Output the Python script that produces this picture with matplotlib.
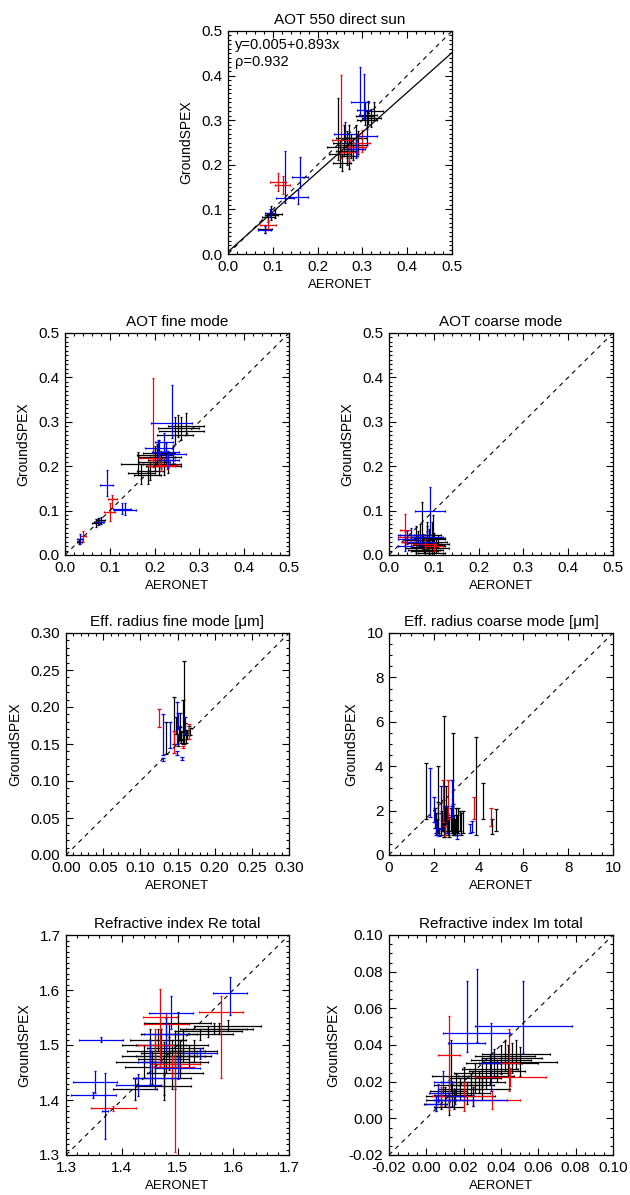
import numpy as np
import matplotlib
matplotlib.use("Agg")
import matplotlib.pyplot as plt
from matplotlib.ticker import MultipleLocator

plt.rcParams['font.family'] = ['Liberation Sans', 'DejaVu Sans']

# ---------------- Panel 1: AOT 550 direct sun ----------------
aot_red_x = [0.112, 0.122, 0.090, 0.252, 0.298, 0.288, 0.270]
aot_red_y = [0.162, 0.155, 0.065, 0.256, 0.248, 0.240, 0.228]
aot_red_xe = [0.018, 0.016, 0.018, 0.020, 0.020, 0.020, 0.020]
aot_red_ylo = [0.020, 0.020, 0.012, 0.040, 0.020, 0.020, 0.020]
aot_red_yhi = [0.020, 0.020, 0.012, 0.145, 0.030, 0.030, 0.020]

aot_blue_x = [0.127, 0.161, 0.157, 0.094, 0.082, 0.295, 0.304, 0.310, 0.262, 0.285]
aot_blue_y = [0.125, 0.173, 0.128, 0.092, 0.054, 0.340, 0.323, 0.264, 0.270, 0.235]
aot_blue_xe = [0.020, 0.018, 0.022, 0.012, 0.015, 0.020, 0.015, 0.022, 0.025, 0.020]
aot_blue_ylo = [0.010, 0.025, 0.015, 0.010, 0.008, 0.030, 0.020, 0.020, 0.020, 0.020]
aot_blue_yhi = [0.105, 0.045, 0.015, 0.010, 0.008, 0.080, 0.080, 0.020, 0.025, 0.020]

aot_blk_x = [0.097, 0.090, 0.105, 0.083, 0.246, 0.260, 0.265, 0.270, 0.275, 0.280,
             0.255, 0.285, 0.270, 0.265, 0.290, 0.250, 0.313, 0.320, 0.305, 0.325, 0.310]
aot_blk_y = [0.087, 0.082, 0.090, 0.056, 0.240, 0.250, 0.230, 0.220, 0.240, 0.235,
             0.205, 0.260, 0.260, 0.245, 0.245, 0.225, 0.312, 0.305, 0.310, 0.320, 0.300]
aot_blk_xe = [0.015, 0.015, 0.015, 0.015, 0.025, 0.025, 0.025, 0.020, 0.025, 0.022,
              0.020, 0.022, 0.030, 0.020, 0.020, 0.025, 0.020, 0.022, 0.020, 0.020, 0.022]
aot_blk_ylo = [0.010, 0.010, 0.010, 0.008, 0.030, 0.030, 0.030, 0.030, 0.025, 0.025,
               0.020, 0.025, 0.030, 0.030, 0.020, 0.030, 0.020, 0.020, 0.020, 0.020, 0.020]
aot_blk_yhi = [0.020, 0.010, 0.010, 0.008, 0.110, 0.040, 0.030, 0.040, 0.030, 0.025,
               0.020, 0.030, 0.030, 0.030, 0.030, 0.030, 0.030, 0.020, 0.030, 0.020, 0.020]

fit_intercept = 0.005
fit_slope = 0.893
fit_rho = 0.932

# ---------------- Panel 2: AOT fine mode ----------------
fine_red_x = [0.040, 0.100, 0.105, 0.197, 0.228, 0.215, 0.210]
fine_red_y = [0.042, 0.097, 0.125, 0.218, 0.203, 0.200, 0.215]
fine_red_xe = [0.006, 0.012, 0.010, 0.030, 0.025, 0.030, 0.020]
fine_red_ylo = [0.012, 0.020, 0.020, 0.020, 0.010, 0.010, 0.015]
fine_red_yhi = [0.012, 0.020, 0.010, 0.180, 0.010, 0.010, 0.015]

fine_blue_x = [0.033, 0.093, 0.134, 0.128, 0.076, 0.238, 0.208, 0.225, 0.240, 0.220, 0.230]
fine_blue_y = [0.035, 0.158, 0.101, 0.103, 0.075, 0.298, 0.240, 0.232, 0.228, 0.255, 0.215]
fine_blue_xe = [0.006, 0.015, 0.025, 0.020, 0.010, 0.045, 0.030, 0.030, 0.030, 0.020, 0.025]
fine_blue_ylo = [0.010, 0.025, 0.010, 0.010, 0.008, 0.035, 0.020, 0.020, 0.020, 0.020, 0.020]
fine_blue_yhi = [0.012, 0.033, 0.015, 0.015, 0.008, 0.085, 0.020, 0.020, 0.020, 0.020, 0.020]

fine_blk_x = [0.074, 0.070, 0.080, 0.032, 0.164, 0.170, 0.185, 0.200, 0.205, 0.210, 0.215,
              0.220, 0.190, 0.210, 0.225, 0.230, 0.200, 0.253, 0.260, 0.245, 0.270]
fine_blk_y = [0.075, 0.072, 0.078, 0.030, 0.206, 0.185, 0.180, 0.210, 0.220, 0.205, 0.215,
              0.200, 0.190, 0.230, 0.220, 0.205, 0.225, 0.285, 0.280, 0.270, 0.290]
fine_blk_xe = [0.010, 0.010, 0.010, 0.005, 0.040, 0.030, 0.030, 0.035, 0.040, 0.035, 0.030,
               0.040, 0.030, 0.035, 0.035, 0.030, 0.040, 0.045, 0.050, 0.040, 0.040]
fine_blk_ylo = [0.008, 0.008, 0.008, 0.005, 0.025, 0.025, 0.020, 0.020, 0.020, 0.025, 0.020,
                0.020, 0.020, 0.020, 0.020, 0.020, 0.020, 0.020, 0.020, 0.020, 0.020]
fine_blk_yhi = [0.008, 0.008, 0.008, 0.005, 0.025, 0.020, 0.020, 0.030, 0.030, 0.025, 0.020,
                0.020, 0.020, 0.030, 0.020, 0.020, 0.020, 0.030, 0.030, 0.040, 0.030]

# ---------------- Panel 3: AOT coarse mode ----------------
crs_red_x = [0.036, 0.035, 0.050, 0.080, 0.100]
crs_red_y = [0.057, 0.040, 0.030, 0.025, 0.020]
crs_red_xe = [0.012, 0.015, 0.020, 0.025, 0.020]
crs_red_ylo = [0.030, 0.020, 0.010, 0.010, 0.010]
crs_red_yhi = [0.035, 0.015, 0.010, 0.010, 0.010]

crs_blue_x = [0.0915, 0.036, 0.040, 0.050, 0.070, 0.085]
crs_blue_y = [0.100, 0.020, 0.035, 0.045, 0.030, 0.040]
crs_blue_xe = [0.034, 0.015, 0.020, 0.030, 0.030, 0.035]
crs_blue_ylo = [0.055, 0.010, 0.010, 0.010, 0.010, 0.010]
crs_blue_yhi = [0.054, 0.020, 0.020, 0.015, 0.015, 0.015]

crs_blk_x = [0.073, 0.085, 0.096, 0.099, 0.060, 0.065, 0.075, 0.080, 0.090, 0.095,
             0.070, 0.085, 0.100, 0.105, 0.080, 0.090, 0.060, 0.110, 0.088, 0.078]
crs_blk_y = [0.030, 0.025, 0.020, 0.035, 0.045, 0.034, 0.027, 0.019, 0.011, 0.004,
             0.040, 0.045, 0.030, 0.015, 0.008, 0.038, 0.015, 0.025, 0.022, 0.012]
crs_blk_xe = [0.025, 0.030, 0.030, 0.025, 0.035, 0.030, 0.035, 0.030, 0.030, 0.030,
              0.030, 0.030, 0.030, 0.030, 0.030, 0.035, 0.025, 0.025, 0.035, 0.035]
crs_blk_ylo = [0.015, 0.015, 0.015, 0.015, 0.015, 0.015, 0.015, 0.010, 0.008, 0.004,
               0.015, 0.015, 0.015, 0.010, 0.008, 0.015, 0.010, 0.010, 0.012, 0.008]
crs_blk_yhi = [0.090, 0.050, 0.055, 0.055, 0.020, 0.020, 0.020, 0.020, 0.020, 0.020,
               0.030, 0.020, 0.020, 0.020, 0.020, 0.020, 0.020, 0.020, 0.015, 0.015]

# ---------------- Panel 4: Eff. radius fine mode ----------------
rf_red_x = [0.1256, 0.145, 0.166, 0.158]
rf_red_y = [0.185, 0.155, 0.167, 0.146]
rf_red_ylo = [0.012, 0.017, 0.010, 0.001]
rf_red_yhi = [0.012, 0.013, 0.010, 0.001]

rf_blue_x = [0.131, 0.131, 0.140, 0.149, 0.149, 0.160, 0.156, 0.151]
rf_blue_y = [0.160, 0.129, 0.160, 0.170, 0.138, 0.175, 0.131, 0.180]
rf_blue_ylo = [0.025, 0.002, 0.015, 0.020, 0.003, 0.012, 0.002, 0.010]
rf_blue_yhi = [0.030, 0.002, 0.020, 0.037, 0.003, 0.012, 0.002, 0.012]

rf_blk_x = [0.135, 0.145, 0.152, 0.155, 0.157, 0.159, 0.162, 0.165, 0.150, 0.154,
            0.158, 0.160, 0.163, 0.148, 0.153, 0.167]
rf_blk_y = [0.160, 0.170, 0.165, 0.160, 0.175, 0.168, 0.160, 0.168, 0.155, 0.172,
            0.158, 0.170, 0.163, 0.175, 0.165, 0.167]
rf_blk_ylo = [0.023, 0.020, 0.010, 0.008, 0.020, 0.018, 0.008, 0.006, 0.008, 0.010,
              0.008, 0.008, 0.006, 0.012, 0.008, 0.005]
rf_blk_yhi = [0.020, 0.044, 0.010, 0.008, 0.035, 0.094, 0.008, 0.006, 0.008, 0.020,
              0.008, 0.008, 0.006, 0.012, 0.008, 0.005]

# ---------------- Panel 5: Eff. radius coarse mode ----------------
rc_red_x = [2.40, 2.65, 3.78, 4.55, 2.50]
rc_red_y = [2.50, 2.50, 2.10, 1.70, 1.10]
rc_red_ylo = [1.00, 0.90, 0.50, 0.40, 0.20]
rc_red_yhi = [0.90, 0.90, 0.50, 0.40, 0.20]

rc_blue_x = [1.83, 2.00, 2.34, 2.80, 3.60, 3.70, 2.10, 2.60, 3.05, 2.25]
rc_blue_y = [2.20, 1.90, 2.00, 2.20, 1.20, 1.30, 1.20, 1.40, 0.80, 1.00]
rc_blue_ylo = [0.50, 0.40, 0.80, 0.50, 0.20, 0.25, 0.30, 0.40, 0.10, 0.15]
rc_blue_yhi = [1.70, 0.70, 1.10, 1.20, 0.20, 0.25, 0.30, 0.80, 0.10, 0.15]

rc_blk_x = [1.65, 2.19, 2.45, 2.86, 3.90, 4.20, 4.60, 4.76, 2.10, 2.30, 2.50, 2.60,
            2.70, 2.90, 3.00, 3.10, 3.20, 2.20, 2.40, 2.80, 3.30, 2.55, 2.15, 2.35,
            2.65, 2.75, 2.95, 3.15, 2.05, 2.45, 2.85, 3.05]
rc_blk_y = [2.63, 1.60, 1.50, 1.50, 2.80, 2.10, 1.25, 1.60, 1.40, 1.30, 1.60, 1.40,
            1.20, 1.30, 1.50, 1.60, 1.40, 1.80, 1.70, 1.50, 1.60, 2.20, 1.20, 1.50,
            1.30, 1.60, 1.20, 1.50, 1.60, 1.10, 1.70, 1.30]
rc_blk_ylo = [1.00, 0.60, 0.70, 0.60, 1.90, 0.50, 0.30, 0.50, 0.40, 0.40, 0.50, 0.40,
              0.40, 0.40, 0.50, 0.60, 0.50, 0.60, 0.60, 0.50, 0.60, 0.80, 0.30, 0.40,
              0.40, 0.50, 0.30, 0.40, 0.40, 0.30, 0.50, 0.40]
rc_blk_yhi = [1.50, 2.40, 4.75, 4.00, 2.50, 1.15, 0.35, 0.45, 0.50, 0.60, 0.60, 0.50,
              0.50, 0.50, 0.60, 0.50, 0.50, 0.60, 0.80, 0.70, 0.40, 0.90, 0.40, 0.50,
              0.50, 0.50, 0.40, 0.50, 0.50, 0.40, 0.60, 0.50]

# ---------------- Panel 6: Refractive index Re ----------------
re_red_x = [1.385, 1.469, 1.496, 1.578, 1.480, 1.490, 1.460]
re_red_y = [1.385, 1.551, 1.465, 1.560, 1.538, 1.460, 1.500]
re_red_xe = [0.040, 0.030, 0.045, 0.040, 0.040, 0.040, 0.030]
re_red_ylo = [0.005, 0.090, 0.160, 0.120, 0.020, 0.020, 0.030]
re_red_yhi = [0.005, 0.050, 0.020, 0.030, 0.020, 0.020, 0.030]

re_blue_x = [1.363, 1.352, 1.349, 1.370, 1.488, 1.594, 1.450, 1.460, 1.540, 1.500, 1.480, 1.430]
re_blue_y = [1.510, 1.433, 1.409, 1.380, 1.559, 1.594, 1.470, 1.440, 1.485, 1.458, 1.520, 1.427]
re_blue_xe = [0.040, 0.040, 0.040, 0.005, 0.040, 0.030, 0.020, 0.040, 0.030, 0.040, 0.040, 0.040]
re_blue_ylo = [0.005, 0.020, 0.005, 0.050, 0.030, 0.040, 0.040, 0.020, 0.010, 0.020, 0.030, 0.020]
re_blue_yhi = [0.005, 0.020, 0.005, 0.070, 0.030, 0.030, 0.040, 0.020, 0.010, 0.020, 0.030, 0.020]

re_blk_x = [1.424, 1.475, 1.440, 1.450, 1.460, 1.470, 1.480, 1.490, 1.500, 1.510, 1.520,
            1.530, 1.455, 1.465, 1.485, 1.495, 1.505, 1.540, 1.555, 1.565, 1.575, 1.590,
            1.475, 1.500, 1.450, 1.485, 1.495, 1.475, 1.505]
re_blk_y = [1.420, 1.425, 1.470, 1.480, 1.490, 1.500, 1.480, 1.470, 1.490, 1.500, 1.480,
            1.490, 1.460, 1.510, 1.520, 1.450, 1.470, 1.520, 1.525, 1.530, 1.530, 1.535,
            1.440, 1.540, 1.500, 1.485, 1.495, 1.475, 1.480]
re_blk_xe = [0.040, 0.050, 0.050, 0.050, 0.050, 0.045, 0.055, 0.050, 0.050, 0.045, 0.040,
             0.040, 0.050, 0.050, 0.050, 0.050, 0.050, 0.060, 0.060, 0.060, 0.060, 0.060,
             0.050, 0.060, 0.050, 0.050, 0.050, 0.045, 0.045]
re_blk_ylo = [0.020, 0.025, 0.030, 0.030, 0.040, 0.030, 0.030, 0.050, 0.030, 0.030, 0.020,
              0.020, 0.030, 0.020, 0.020, 0.030, 0.030, 0.010, 0.010, 0.010, 0.010, 0.010,
              0.030, 0.020, 0.030, 0.030, 0.030, 0.030, 0.030]
re_blk_yhi = [0.020, 0.025, 0.030, 0.030, 0.030, 0.030, 0.030, 0.040, 0.030, 0.030, 0.020,
              0.020, 0.030, 0.020, 0.020, 0.030, 0.030, 0.010, 0.010, 0.010, 0.010, 0.010,
              0.030, 0.020, 0.030, 0.030, 0.030, 0.030, 0.030]

# ---------------- Panel 7: Refractive index Im ----------------
im_red_x = [0.0123, 0.0445, 0.0450, 0.0200, 0.0350, 0.0080]
im_red_y = [0.0346, 0.0300, 0.0227, 0.0120, 0.0100, 0.0120]
im_red_xe = [0.0060, 0.0050, 0.0190, 0.0150, 0.0150, 0.0050]
im_red_ylo = [0.0300, 0.0150, 0.0050, 0.0080, 0.0050, 0.0050]
im_red_yhi = [0.0214, 0.0190, 0.0050, 0.0080, 0.0050, 0.0050]

im_blue_x = [0.0270, 0.0216, 0.0346, 0.0520, 0.0064, 0.0090, 0.0155, 0.0050, 0.0120, 0.0250]
im_blue_y = [0.0465, 0.0410, 0.0300, 0.0504, 0.0137, 0.0200, 0.0120, 0.0080, 0.0100, 0.0100]
im_blue_xe = [0.0180, 0.0100, 0.0050, 0.0260, 0.0050, 0.0050, 0.0050, 0.0050, 0.0080, 0.0180]
im_blue_ylo = [0.0050, 0.0050, 0.0150, 0.0150, 0.0050, 0.0060, 0.0040, 0.0040, 0.0040, 0.0030]
im_blue_yhi = [0.0350, 0.0340, 0.0220, 0.0245, 0.0050, 0.0060, 0.0040, 0.0040, 0.0040, 0.0030]

im_blk_x = [0.0050, 0.0080, 0.0100, 0.0120, 0.0140, 0.0160, 0.0180, 0.0200, 0.0220, 0.0240,
            0.0260, 0.0280, 0.0300, 0.0320, 0.0340, 0.0360, 0.0380, 0.0400, 0.0420, 0.0440,
            0.0460, 0.0480, 0.0500, 0.0150, 0.0250, 0.0130, 0.0300, 0.0120]
im_blk_y = [0.0080, 0.0100, 0.0120, 0.0150, 0.0130, 0.0180, 0.0160, 0.0200, 0.0140, 0.0180,
            0.0220, 0.0200, 0.0250, 0.0230, 0.0270, 0.0300, 0.0260, 0.0320, 0.0340, 0.0300,
            0.0330, 0.0350, 0.0310, 0.0100, 0.0120, 0.0230, 0.0160, 0.0060]
im_blk_xe = [0.0060, 0.0080, 0.0100, 0.0100, 0.0100, 0.0120, 0.0120, 0.0120, 0.0120, 0.0120,
             0.0140, 0.0140, 0.0150, 0.0150, 0.0150, 0.0150, 0.0150, 0.0160, 0.0160, 0.0160,
             0.0160, 0.0180, 0.0200, 0.0100, 0.0120, 0.0100, 0.0150, 0.0080]
im_blk_ylo = [0.0040, 0.0050, 0.0050, 0.0060, 0.0060, 0.0060, 0.0060, 0.0080, 0.0060, 0.0060,
              0.0080, 0.0060, 0.0080, 0.0070, 0.0080, 0.0080, 0.0060, 0.0080, 0.0080, 0.0070,
              0.0080, 0.0080, 0.0080, 0.0050, 0.0050, 0.0080, 0.0060, 0.0040]
im_blk_yhi = [0.0040, 0.0050, 0.0050, 0.0060, 0.0060, 0.0060, 0.0060, 0.0080, 0.0060, 0.0060,
              0.0080, 0.0060, 0.0080, 0.0070, 0.0080, 0.0080, 0.0060, 0.0080, 0.0080, 0.0100,
              0.0080, 0.0080, 0.0080, 0.0050, 0.0050, 0.0200, 0.0060, 0.0040]

RED = '#ff0000'
BLUE = '#0000ff'
BLACK = '#000000'

W, H = 630, 1195
fig = plt.figure(figsize=(W / 100, H / 100), dpi=100)


def make_ax(left_px, top_px, w_px=224, h_px=222):
    return fig.add_axes([left_px / W, 1 - (top_px + h_px) / H, w_px / W, h_px / H])


def draw(ax, x, y, xe, ylo, yhi, color, cap=0.0, lw=0.9):
    ax.errorbar(x, y, xerr=xe, yerr=[ylo, yhi], fmt='none', ecolor=color,
                elinewidth=lw, capsize=cap, capthick=lw)


def style(ax, title, lim, major, xminor, yminor, fmt):
    ax.set_xlim(lim)
    ax.set_ylim(lim)
    ax.plot(lim, lim, color='black', lw=0.8, ls=(0, (4, 4)))
    ax.set_title(title, fontsize=11, pad=5)
    ax.set_xlabel('AERONET', fontsize=9.5, labelpad=4)
    ax.set_ylabel('GroundSPEX', fontsize=10, labelpad=6)
    ax.xaxis.set_major_locator(MultipleLocator(major))
    ax.yaxis.set_major_locator(MultipleLocator(major))
    ax.xaxis.set_minor_locator(MultipleLocator(major / xminor))
    ax.yaxis.set_minor_locator(MultipleLocator(major / yminor))
    ax.tick_params(which='both', direction='in', top=True, right=True, labelsize=11, pad=4)
    ax.tick_params(which='major', length=5, width=0.8)
    ax.tick_params(which='minor', length=2.5, width=0.8)
    for s in ax.spines.values():
        s.set_linewidth(0.9)
    ax.xaxis.set_major_formatter(plt.FormatStrFormatter(fmt))
    ax.yaxis.set_major_formatter(plt.FormatStrFormatter(fmt))


# Panel 1
ax1 = make_ax(228, 31, 224, 223)
draw(ax1, aot_blk_x, aot_blk_y, aot_blk_xe, aot_blk_ylo, aot_blk_yhi, BLACK, 1)
draw(ax1, aot_red_x, aot_red_y, aot_red_xe, aot_red_ylo, aot_red_yhi, RED, 1)
draw(ax1, aot_blue_x, aot_blue_y, aot_blue_xe, aot_blue_ylo, aot_blue_yhi, BLUE, 1)
style(ax1, 'AOT 550 direct sun', (0, 0.5), 0.1, 5, 10, '%.1f')
xx = np.array([0, 0.5])
ax1.plot(xx, fit_intercept + fit_slope * xx, color='black', lw=0.9)
ax1.text(0.03, 0.97, 'y=%.3f+%.3fx\n\u03c1=%.3f' % (fit_intercept, fit_slope, fit_rho),
         transform=ax1.transAxes, ha='left', va='top', fontsize=10.5, linespacing=1.3)

# Panel 2
ax2 = make_ax(65, 333)
draw(ax2, fine_blk_x, fine_blk_y, fine_blk_xe, fine_blk_ylo, fine_blk_yhi, BLACK, 1)
draw(ax2, fine_red_x, fine_red_y, fine_red_xe, fine_red_ylo, fine_red_yhi, RED, 1)
draw(ax2, fine_blue_x, fine_blue_y, fine_blue_xe, fine_blue_ylo, fine_blue_yhi, BLUE, 1)
style(ax2, 'AOT fine mode', (0, 0.5), 0.1, 5, 10, '%.1f')

# Panel 3
ax3 = make_ax(389, 333)
draw(ax3, crs_blk_x, crs_blk_y, crs_blk_xe, crs_blk_ylo, crs_blk_yhi, BLACK, 1)
draw(ax3, crs_red_x, crs_red_y, crs_red_xe, crs_red_ylo, crs_red_yhi, RED, 1)
draw(ax3, crs_blue_x, crs_blue_y, crs_blue_xe, crs_blue_ylo, crs_blue_yhi, BLUE, 1)
style(ax3, 'AOT coarse mode', (0, 0.5), 0.1, 5, 10, '%.1f')

# Panel 4
ax4 = make_ax(66, 633, 223, 222)
draw(ax4, rf_blk_x, rf_blk_y, None, rf_blk_ylo, rf_blk_yhi, BLACK, 1.2)
draw(ax4, rf_red_x, rf_red_y, None, rf_red_ylo, rf_red_yhi, RED, 1.2)
draw(ax4, rf_blue_x, rf_blue_y, None, rf_blue_ylo, rf_blue_yhi, BLUE, 1.2)
style(ax4, 'Eff. radius fine mode [\u03bcm]', (0, 0.3), 0.05, 5, 5, '%.2f')

# Panel 5
ax5 = make_ax(389, 633)
draw(ax5, rc_blk_x, rc_blk_y, None, rc_blk_ylo, rc_blk_yhi, BLACK, 1.2)
draw(ax5, rc_red_x, rc_red_y, None, rc_red_ylo, rc_red_yhi, RED, 1.2)
draw(ax5, rc_blue_x, rc_blue_y, None, rc_blue_ylo, rc_blue_yhi, BLUE, 1.2)
style(ax5, 'Eff. radius coarse mode [\u03bcm]', (0, 10), 2, 4, 4, '%d')

# Panel 6
ax6 = make_ax(66, 935, 223, 220)
draw(ax6, re_blk_x, re_blk_y, re_blk_xe, re_blk_ylo, re_blk_yhi, BLACK, 1)
draw(ax6, re_red_x, re_red_y, re_red_xe, re_red_ylo, re_red_yhi, RED, 1)
draw(ax6, re_blue_x, re_blue_y, re_blue_xe, re_blue_ylo, re_blue_yhi, BLUE, 1)
style(ax6, 'Refractive index Re total', (1.3, 1.7), 0.1, 5, 10, '%.1f')

# Panel 7
ax7 = make_ax(389, 935, 224, 220)
draw(ax7, im_blk_x, im_blk_y, im_blk_xe, im_blk_ylo, im_blk_yhi, BLACK, 1)
draw(ax7, im_red_x, im_red_y, im_red_xe, im_red_ylo, im_red_yhi, RED, 1)
draw(ax7, im_blue_x, im_blue_y, im_blue_xe, im_blue_ylo, im_blue_yhi, BLUE, 1)
style(ax7, 'Refractive index Im total', (-0.02, 0.10), 0.02, 4, 4, '%.2f')

fig.savefig('out.png', dpi=100)
